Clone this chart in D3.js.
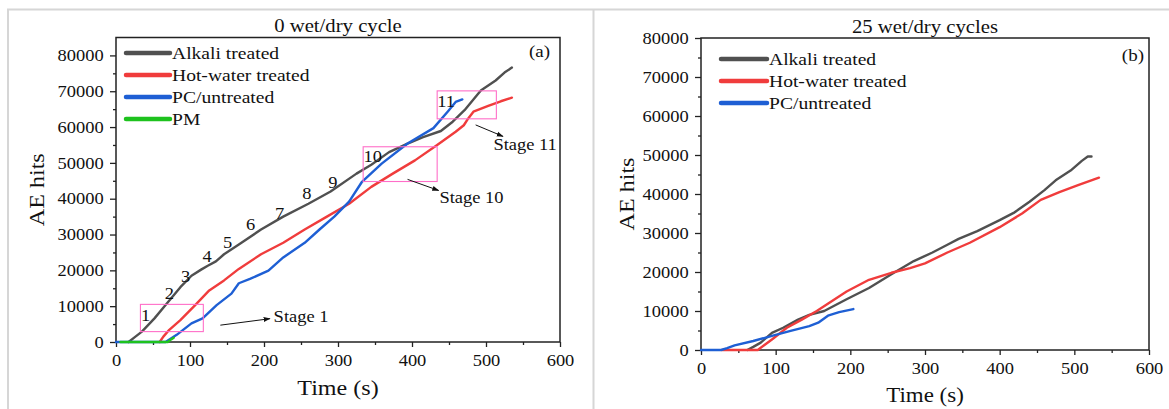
<!DOCTYPE html>
<html><head><meta charset="utf-8">
<script src="https://cdn.jsdelivr.net/npm/d3@7"></script>
<style>body{margin:0;background:#fff}svg{display:block}text{font-family:"Liberation Serif","Times New Roman",serif;fill:#111}</style>
</head><body><svg id="c" width="1169" height="409"></svg>
<script>
// ---------- data ----------
const seriesNamesA = ["Alkali treated","Hot-water treated","PC/untreated","PM"];
const seriesNamesB = ["Alkali treated","Hot-water treated","PC/untreated"];
const alkali0 = [[17,0],[25,1300],[35,2900],[52,6600],[67,10300],[87,15300],[102,18500],[115,20200],[124,21300],[135,22500],[146,24500],[166,27200],[196,31400],[226,35000],[260,38600],[290,42000],[325,47000],[345,49500],[369,53000],[394,55400],[415,57200],[439,58900],[455,61500],[471,64700],[493,70200],[513,73000],[525,75200],[535,76600]];
const hot0 = [[59,0],[64,1500],[72,3400],[87,6100],[107,10300],[126,14400],[146,17200],[166,20400],[196,24500],[226,27700],[255,31400],[285,35000],[315,38600],[345,43300],[374,47000],[404,50700],[434,55000],[459,58700],[470,60500],[476,62400],[483,64300],[503,65900],[520,67200],[535,68200]];
const pc0 = [[0,0],[67,0],[82,2000],[102,5200],[117,6600],[136,10300],[156,13500],[166,16400],[181,17600],[206,19900],[226,23600],[255,27700],[275,31400],[295,35000],[315,39200],[332,44600],[359,49800],[394,55400],[429,59700],[449,64500],[459,67000],[468,67700]];
const pm0 = [[6,0],[70,0],[75,800],[78,1200]];
const alkali25 = [[62,0],[70,800],[80,1900],[95,4400],[110,5700],[130,7800],[145,9000],[165,10000],[195,13000],[225,15900],[255,19400],[285,22800],[310,25000],[330,27000],[345,28500],[370,30500],[400,33300],[420,35300],[440,38000],[460,41000],[475,43500],[495,46000],[510,48500],[518,49600],[523,49600]];
const hot25 = [[28,0],[76,0],[85,1300],[95,2700],[115,5700],[135,7800],[155,10000],[175,12500],[195,15000],[225,18000],[255,19800],[280,21000],[300,22200],[330,25000],[360,27500],[400,31500],[430,35000],[455,38500],[480,40500],[505,42300],[533,44200]];
const pc25 = [[0,0],[27,0],[35,500],[45,1200],[70,2300],[95,3600],[120,4900],[145,6100],[157,7000],[170,8800],[185,9700],[204,10500]];
const xTicks = [0,100,200,300,400,500,600];
const xMinor = [50,150,250,350,450,550];
const yTicks = [0,10000,20000,30000,40000,50000,60000,70000,80000];
const yMinor = [5000,15000,25000,35000,45000,55000,65000,75000];
const stageNums = [[1,40,7500],[2,72,13500],[3,94,18300],[4,123,24000],[5,151,27700],[6,182,32750],[7,221,36000],[8,258,41400],[9,293,44400],[10,347,51700],[11,446,67100]];
const boxes = [[33,118,2900,10500],[334,434,44800,54500],[434,514,62300,70100]];
const stages = [["Stage 1",213,7000,[141,4700],[208,6500]],["Stage 10",437,40300,[394,45400],[436,42300]],["Stage 11",510,55000,[486,60600],[523,57400]]];
const colors = ["#505050","#f03c3c","#1e5fd4","#1ec21e"];

// ---------- drawing ----------
const SX = 1.12;
const svg = d3.select("#c");
svg.append("rect").attr("width",1169).attr("height",409).attr("fill","#fff");
svg.append("path").attr("d","M8,409V9.5H1169M593.5,9.5V409").attr("fill","none").attr("stroke","#d6d6d6").attr("stroke-width",2);
const defs = svg.append("defs");
defs.append("marker").attr("id","ah").attr("viewBox","0 0 10 10").attr("refX",9).attr("refY",5)
  .attr("markerWidth",7).attr("markerHeight",7).attr("orient","auto")
  .append("path").attr("d","M0,1.5L10,5L0,8.5Z").attr("fill","#111");

function txt(g,x,y,s,size,anchor,rot){
  return g.append("text")
    .attr("transform",`translate(${x},${y})${rot?` rotate(${rot})`:""} scale(${SX},1)`)
    .attr("font-size",size).attr("text-anchor",anchor||"start").text(s);
}

function panel(cfg){
  const x = d3.scaleLinear().domain([0,600]).range([cfg.x0,cfg.x1]);
  const y = d3.scaleLinear().domain([0,cfg.ymax]).range([cfg.y0,cfg.y1]);
  const g = svg.append("g");
  const ax = g.append("g").attr("transform",`translate(0,${cfg.y0})`)
    .call(d3.axisBottom(x).tickValues(xTicks).tickSize(5).tickPadding(7).tickFormat(d3.format("d")));
  g.append("g").attr("transform",`translate(0,${cfg.y0})`)
    .call(d3.axisBottom(x).tickValues(xMinor).tickSize(3).tickFormat(""))
    .call(s=>s.select(".domain").remove());
  const ay = g.append("g").attr("transform",`translate(${cfg.x0},0)`)
    .call(d3.axisLeft(y).tickValues(yTicks).tickSize(6).tickPadding(5).tickFormat(d3.format("d")));
  g.append("g").attr("transform",`translate(${cfg.x0},0)`)
    .call(d3.axisLeft(y).tickValues(yMinor).tickSize(3).tickFormat(""))
    .call(s=>s.select(".domain").remove());
  [ax,ay].forEach(a=>{
    a.selectAll("text").attr("font-size",16.5).attr("fill","#111").attr("transform",`scale(${SX},1)`);
    a.select(".domain").remove();
  });
  g.selectAll(".tick line").attr("stroke","#222").attr("stroke-width",1.3);
  g.append("rect").attr("x",cfg.x0).attr("y",cfg.y1).attr("width",cfg.x1-cfg.x0).attr("height",cfg.y0-cfg.y1)
    .attr("fill","none").attr("stroke","#222").attr("stroke-width",1.5);
  txt(g,(cfg.x0+cfg.x1)/2,cfg.titleY,cfg.title,18.5,"middle");
  txt(g,(cfg.x0+cfg.x1)/2,cfg.xlabY,"Time (s)",cfg.xlabSize,"middle");
  txt(g,cfg.ylabX,(cfg.y0+cfg.y1)/2,"AE hits",21.5,"middle",-90);
  txt(g,cfg.tagX,cfg.tagY,cfg.tag,17,"end");
  const line = d3.line().x(d=>x(d[0])).y(d=>y(d[1]));
  cfg.series.forEach((s,i)=>{
    g.append("path").datum(s).attr("d",line).attr("fill","none").attr("stroke",colors[i])
      .attr("stroke-width",2.4).attr("stroke-linejoin","round").attr("stroke-linecap","round");
  });
  cfg.names.forEach((n,i)=>{
    const ly = cfg.legY + i*cfg.legStep;
    g.append("line").attr("x1",cfg.legX).attr("x2",cfg.legX+cfg.legW).attr("y1",ly).attr("y2",ly)
      .attr("stroke",colors[i]).attr("stroke-width",4.5).attr("stroke-linecap","round");
    txt(g,cfg.legX+cfg.legW+2,ly+6,n,17.5,"start");
  });
  return {g,x,y};
}

const A = panel({x0:116,x1:560,y0:342,y1:37.5,ymax:85000,title:"0 wet/dry cycle",titleY:32,xlabY:395,xlabSize:21.5,ylabX:44,
  tag:"(a)",tagX:550,tagY:57,series:[alkali0,hot0,pc0,pm0],names:seriesNamesA,legX:126,legW:44,legY:53,legStep:22});
const B = panel({x0:701,x1:1149,y0:350,y1:38,ymax:80000,title:"25 wet/dry cycles",titleY:33,xlabY:402,xlabSize:20.5,ylabX:634,
  tag:"(b)",tagX:1144,tagY:61,series:[alkali25,hot25,pc25],names:seriesNamesB,legX:721,legW:46,legY:59,legStep:22});

const {g,x,y} = A;
boxes.forEach(b=>{
  g.append("rect").attr("x",x(b[0])).attr("y",y(b[3])).attr("width",x(b[1])-x(b[0])).attr("height",y(b[2])-y(b[3]))
    .attr("fill","none").attr("stroke","#ff6ec8").attr("stroke-width",1.1);
});
stageNums.forEach(s=>{ txt(g,x(s[1]),y(s[2])+5.5,String(s[0]),16.5,"middle"); });
stages.forEach(s=>{
  txt(g,x(s[1]),y(s[2])+5.5,s[0],16.5,"start");
  g.append("line").attr("x1",x(s[3][0])).attr("y1",y(s[3][1])).attr("x2",x(s[4][0])).attr("y2",y(s[4][1]))
    .attr("stroke","#111").attr("stroke-width",1).attr("marker-end","url(#ah)");
});
</script></body></html>
